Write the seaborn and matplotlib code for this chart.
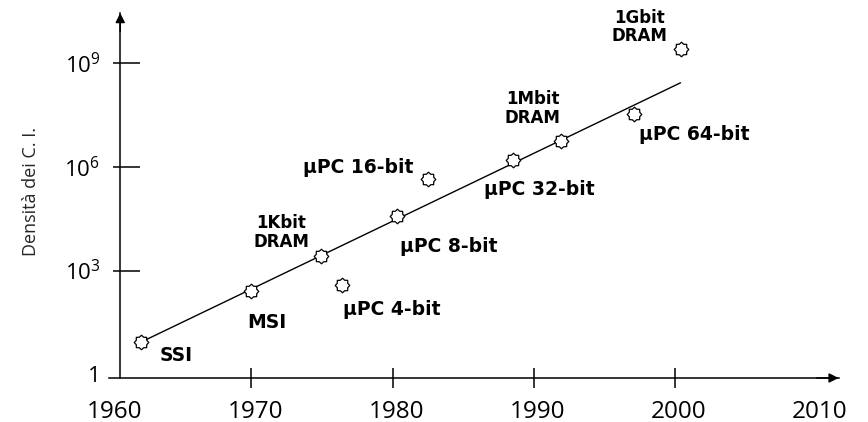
import numpy as np
import pandas as pd
import matplotlib
matplotlib.use("Agg")
import matplotlib.pyplot as plt
import matplotlib.transforms as mtransforms
from matplotlib.path import Path
from matplotlib.ticker import FixedLocator, NullFormatter, FixedFormatter
import seaborn as sns

# ---------------- data ----------------
labels = ["SSI", "MSI", "1Kbit\nDRAM", "\u03bcPC 4-bit", "\u03bcPC 8-bit",
          "\u03bcPC 16-bit", "\u03bcPC 32-bit", "1Mbit\nDRAM", "\u03bcPC 64-bit",
          "1Gbit\nDRAM"]
years = [1962.2, 1970.0, 1974.9, 1976.4, 1980.3, 1982.5, 1988.5, 1991.9, 1997.1, 2000.4]
density = [8.6, 257, 2650, 383, 3.8e4, 4.47e5, 1.58e6, 5.6e6, 3.39e7, 2.57e9]

trend_years = [1962.2, 2000.4]
trend_density = [8.6, 2.7e8]

x_tick_years = [1960, 1970, 1980, 1990, 2000, 2010]
x_mark_years = [1970, 1980, 1990, 2000]
y_ticks = [1, 1e3, 1e6, 1e9]
y_tick_labels = ["1", "$10^{3}$", "$10^{6}$", "$10^{9}$"]
y_label = "Densit\u00e0 dei C. I."

df = pd.DataFrame({"year": years, "density": density, "label": labels})
trend = pd.DataFrame({"year": trend_years, "density": trend_density})

# ---------------- style ----------------
sns.set_style("white")
plt.rcParams["font.family"] = ["Open Sans", "DejaVu Sans"]
plt.rcParams["mathtext.fontset"] = "custom"
plt.rcParams["mathtext.rm"] = "Open Sans"
plt.rcParams["mathtext.it"] = "Open Sans:italic"
plt.rcParams["mathtext.bf"] = "Open Sans:bold"
plt.rcParams["text.color"] = "black"
plt.rcParams["axes.edgecolor"] = "black"

# star-like marker glyph (8 bumps)
ang = np.arange(16) * np.pi / 8 + np.pi / 2
rad = np.where(np.arange(16) % 2 == 0, 1.0, 0.78)
verts = np.column_stack([rad * np.cos(ang), rad * np.sin(ang)])
verts = np.vstack([verts, verts[:1]])
star = Path(verts, closed=True)

fig = plt.figure(figsize=(8.68, 4.22), dpi=100)
ax = fig.add_axes([0.12535, 0.10427, 0.8408, 0.86493])
ax.set_yscale("log")

sns.lineplot(data=trend, x="year", y="density", color="black", linewidth=1.0,
             ax=ax, zorder=2)
sns.scatterplot(data=df, x="year", y="density", marker=star, s=110,
                color="white", edgecolor="black", linewidth=0.9, ax=ax, zorder=3)

ax.set_xlim(1959.9, 2011.6)
ax.set_ylim(0.782, 2.82e10)
ax.set_xlabel("")

# spines
for s in ["top", "right"]:
    ax.spines[s].set_visible(False)
ax.spines["left"].set_position(("data", 1960.71))
ax.spines["left"].set_linewidth(1.1)
ax.spines["bottom"].set_linewidth(1.1)

# y ticks
ax.yaxis.remove_overlapping_locs = False
ax.yaxis.set_major_locator(FixedLocator(y_ticks))
ax.yaxis.set_major_formatter(FixedFormatter(y_tick_labels))
ax.yaxis.set_minor_locator(FixedLocator(y_ticks[1:]))
ax.yaxis.set_minor_formatter(NullFormatter())
ax.tick_params(axis="y", which="major", direction="in", length=14.4, width=1.1,
               pad=14.4, labelsize=16, left=True, colors="black")
ax.tick_params(axis="y", which="minor", direction="out", length=5, width=1.1,
               left=True, color="black")
ax.yaxis.get_major_ticks()[0].tick1line.set_visible(False)

# x ticks
ax.xaxis.remove_overlapping_locs = False
ax.xaxis.set_major_locator(FixedLocator(x_tick_years))
ax.xaxis.set_major_formatter(FixedFormatter([str(y) for y in x_tick_years]))
ax.xaxis.set_minor_locator(FixedLocator(x_mark_years))
ax.xaxis.set_minor_formatter(NullFormatter())
ax.tick_params(axis="x", which="major", direction="out", length=0, pad=15.5,
               labelsize=17.5, bottom=True, colors="black")
ax.tick_params(axis="x", which="minor", direction="inout", length=14.4, width=1.1,
               bottom=True, color="black")
shift = mtransforms.ScaledTranslation(4 / 100, 0, fig.dpi_scale_trans)
for lbl in ax.get_xticklabels():
    lbl.set_transform(lbl.get_transform() + shift)

# y label
ax.set_ylabel(y_label, fontsize=13, va="center")
ax.yaxis.set_label_coords(-0.106, 0.51)

# arrow heads
arrow_kw = dict(arrowstyle="-|>", color="black", lw=1.1, mutation_scale=14,
                shrinkA=0, shrinkB=0)
ax.annotate("", xy=(1960.71, 1.0), xycoords=ax.get_xaxis_transform(),
            xytext=(1960.71, 0.95), textcoords=ax.get_xaxis_transform(),
            arrowprops=arrow_kw, annotation_clip=False)
ax.annotate("", xy=(1.0, 0.0), xycoords="axes fraction",
            xytext=(0.97, 0.0), textcoords="axes fraction",
            arrowprops=arrow_kw, annotation_clip=False)

# point labels (offsets in pixels, x right / y up)
offsets = {
    "SSI": (35, -14), "MSI": (15, -32), "1Kbit\nDRAM": (-39, 23.5),
    "\u03bcPC 4-bit": (50, -25), "\u03bcPC 8-bit": (52, -31),
    "\u03bcPC 16-bit": (-70, 11), "\u03bcPC 32-bit": (27, -30),
    "1Mbit\nDRAM": (-28, 32.5), "\u03bcPC 64-bit": (60, -21),
    "1Gbit\nDRAM": (-41, 22),
}
for _, row in df.iterrows():
    lab = row["label"]
    size = 12 if "DRAM" in lab else 13.5
    ax.annotate(lab, xy=(row["year"], row["density"]), xytext=offsets[lab],
                textcoords="offset pixels", ha="center", va="center",
                multialignment="center", fontsize=size, fontweight="bold",
                family="DejaVu Sans", linespacing=1.05, color="black")

fig.savefig("out.png", dpi=100)
